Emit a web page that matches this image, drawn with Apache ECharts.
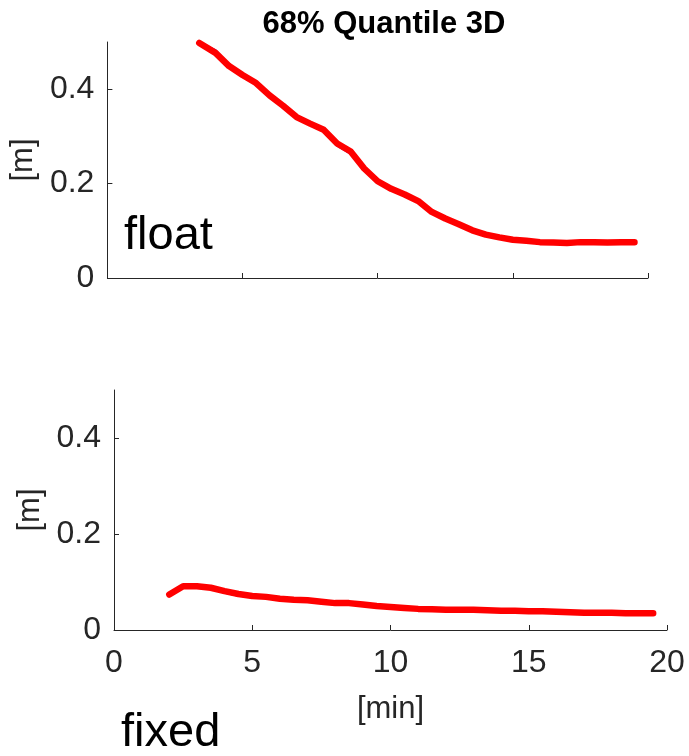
<!DOCTYPE html>
<html>
<head>
<meta charset="utf-8">
<title>68% Quantile 3D</title>
<script src="https://cdn.jsdelivr.net/npm/echarts@6/dist/echarts.min.js"></script>
<style>
  html, body { margin: 0; padding: 0; background: #fff; }
  #chartmain { width: 689px; height: 756px; }
</style>
</head>
<body>
<div id="chartmain"></div>
<script>
// float solution (upper panel), x in [min], y in [m]
var floatX = [3.4, 4, 4.5, 5, 5.5, 6, 6.5, 7, 7.5, 8, 8.5, 9, 9.5, 10, 10.5, 11, 11.5, 12, 12.5, 13, 13.5, 14, 14.5, 15, 15.5, 16, 16.5, 17, 17.5, 18, 18.5, 19, 19.5];
var floatRed = [0.498, 0.477, 0.449, 0.430, 0.413, 0.387, 0.365, 0.341, 0.327, 0.314, 0.285, 0.268, 0.232, 0.205, 0.189, 0.177, 0.163, 0.140, 0.126, 0.114, 0.101, 0.092, 0.086, 0.081, 0.079, 0.076, 0.075, 0.074, 0.076, 0.076, 0.075, 0.076, 0.076];
var floatBlue = [0.500, 0.482, 0.451, 0.428, 0.412, 0.386, 0.363, 0.339, 0.326, 0.311, 0.281, 0.264, 0.229, 0.203, 0.187, 0.176, 0.160, 0.139, 0.125, 0.113, 0.100, 0.092, 0.085, 0.080, 0.078, 0.075, 0.074, 0.072, 0.074, 0.074, 0.073, 0.074, 0.074];

// fixed solution (lower panel)
var fixedX = [2, 2.5, 3, 3.5, 4, 4.5, 5, 5.5, 6, 6.5, 7, 7.5, 8, 8.5, 9, 9.5, 10, 10.5, 11, 11.5, 12, 12.5, 13, 13.5, 14, 14.5, 15, 15.5, 16, 16.5, 17, 17.5, 18, 18.5, 19, 19.5];
var fixedRed = [0.074, 0.091, 0.091, 0.088, 0.081, 0.075, 0.071, 0.069, 0.065, 0.063, 0.062, 0.059, 0.056, 0.056, 0.053, 0.050, 0.048, 0.046, 0.044, 0.043, 0.042, 0.042, 0.042, 0.041, 0.040, 0.040, 0.039, 0.039, 0.038, 0.037, 0.036, 0.036, 0.036, 0.035, 0.035, 0.035];
var fixedBlue = [0.075, 0.089, 0.089, 0.086, 0.078, 0.072, 0.069, 0.068, 0.064, 0.062, 0.061, 0.058, 0.056, 0.057, 0.053, 0.050, 0.048, 0.046, 0.044, 0.043, 0.042, 0.042, 0.042, 0.041, 0.040, 0.039, 0.038, 0.038, 0.037, 0.036, 0.035, 0.035, 0.035, 0.034, 0.034, 0.034];

var yTicks = [0, 0.2, 0.4];

var FONT = '"Liberation Sans", Arial, Helvetica, sans-serif';
var AXIS_COLOR = '#262626';

function pairs(xs, ys) {
  var out = [];
  for (var i = 0; i < xs.length; i++) out.push([xs[i], ys[i]]);
  return out;
}

function xAxisFor(idx, showLabels) {
  return {
    type: 'value', gridIndex: idx, min: 0, max: 20, interval: 5,
    name: showLabels ? '[min]' : '',
    nameLocation: 'middle', nameGap: 64,
    nameTextStyle: { fontFamily: FONT, fontSize: 31, color: AXIS_COLOR },
    axisLine: { show: true, onZero: false, lineStyle: { color: AXIS_COLOR, width: 1 } },
    axisTick: { show: true, inside: true, length: 5, lineStyle: { color: AXIS_COLOR } },
    axisLabel: { show: showLabels, margin: 17, fontFamily: FONT, fontSize: 32, color: AXIS_COLOR },
    splitLine: { show: false }
  };
}

function yAxisFor(idx) {
  return {
    type: 'value', gridIndex: idx, min: 0, max: 0.5, interval: 0.1,
    name: '[m]', nameLocation: 'middle', nameGap: 64, nameRotate: 90,
    nameTextStyle: { fontFamily: FONT, fontSize: 31, color: AXIS_COLOR },
    axisLine: { show: true, onZero: false, lineStyle: { color: AXIS_COLOR, width: 1 } },
    axisTick: { show: true, inside: true, length: 5, customValues: yTicks, lineStyle: { color: AXIS_COLOR } },
    axisLabel: {
      margin: 13, fontFamily: FONT, fontSize: 32, color: AXIS_COLOR,
      customValues: yTicks,
      formatter: function (v) { return String(v); }
    },
    splitLine: { show: false }
  };
}

function lineSeries(idx, xs, ys, color, width) {
  return {
    type: 'line', xAxisIndex: idx, yAxisIndex: idx,
    data: pairs(xs, ys),
    showSymbol: false, symbol: 'none', silent: true, animation: false,
    lineStyle: { color: color, width: width, join: 'round', cap: 'round' }
  };
}

var chart = echarts.init(document.getElementById('chartmain'));
chart.setOption({
  backgroundColor: '#ffffff',
  animation: false,
  title: {
    text: '68% Quantile 3D', left: 379, top: 4, textAlign: 'center',
    textStyle: { fontFamily: FONT, fontSize: 31, fontWeight: 'bold', color: '#000' }
  },
  grid: [
    { left: 107, width: 541, top: 42, height: 236 },
    { left: 114, width: 553, top: 390, height: 240 }
  ],
  xAxis: [xAxisFor(0, false), xAxisFor(1, true)],
  yAxis: [yAxisFor(0), yAxisFor(1)],
  series: [
    lineSeries(0, floatX, floatBlue, '#0000ff', 2.5),
    lineSeries(0, floatX, floatRed, '#ff0000', 6.5),
    lineSeries(1, fixedX, fixedBlue, '#0000ff', 2.5),
    lineSeries(1, fixedX, fixedRed, '#ff0000', 6.5)
  ],
  graphic: [
    { type: 'text', left: 124, top: 213, style: { text: 'float', font: '47px ' + FONT, fill: '#000' } },
    { type: 'text', left: 121, top: 710, style: { text: 'fixed', font: '47px ' + FONT, fill: '#000' } }
  ]
});
</script>
</body>
</html>
